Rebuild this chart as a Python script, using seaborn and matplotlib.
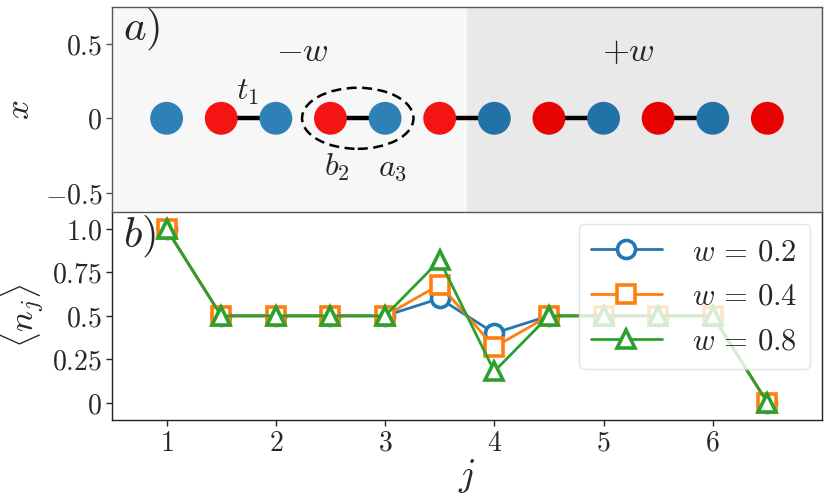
import numpy as np
import pandas as pd
import matplotlib
matplotlib.use("Agg")
import matplotlib.pyplot as plt
from matplotlib.patches import Ellipse
import seaborn as sns

# ---------------- data ----------------
site_x = [1, 1.5, 2, 2.5, 3, 3.5, 4, 4.5, 5, 5.5, 6, 6.5]
site_kind = ["a_left", "b_left", "a_left", "b_left", "a_left", "b_left",
             "a_right", "b_right", "a_right", "b_right", "a_right", "b_right"]
bonds = [(1.5, 2), (2.5, 3), (3.5, 4), (4.5, 5), (5.5, 6)]
kind_colors = {"a_left": "#3080b8", "b_left": "#f51414",
               "a_right": "#2271a7", "b_right": "#e80303"}

j_vals = [1, 1.5, 2, 2.5, 3, 3.5, 4, 4.5, 5, 5.5, 6, 6.5]
n_w02 = [1.0, 0.5, 0.5, 0.5, 0.5, 0.60, 0.40, 0.5, 0.5, 0.5, 0.5, 0.0]
n_w04 = [1.0, 0.5, 0.5, 0.5, 0.5, 0.68, 0.32, 0.5, 0.5, 0.5, 0.5, 0.0]
n_w08 = [1.0, 0.5, 0.5, 0.5, 0.5, 0.82, 0.18, 0.5, 0.5, 0.5, 0.5, 0.0]
series_labels = [r"$w\,=\,0.2$", r"$w\,=\,0.4$", r"$w\,=\,0.8$"]
series_colors = ["#1f77b4", "#ff7f0e", "#2ca02c"]
series_markers = ["o", "s", "^"]

x_ticks = [1, 2, 3, 4, 5, 6]
top_yticks = [-0.5, 0, 0.5]
top_yticklabels = [r"$-0.5$", r"$0$", r"$0.5$"]
bot_yticks = [0, 0.25, 0.5, 0.75, 1.0]
bot_yticklabels = [r"$0$", r"$0.25$", r"$0.5$", r"$0.75$", r"$1.0$"]

# ---------------- style ----------------
sns.set_theme(style="white")
plt.rcParams["mathtext.fontset"] = "cm"
plt.rcParams["font.family"] = ["DejaVu Serif"]

fig = plt.figure(figsize=(8.3, 4.98), dpi=100)
L, R = 112 / 830, 822 / 830
top_t, mid, bot_b = 1 - 7 / 498, 1 - 211.7 / 498, 1 - 420 / 498
ax1 = fig.add_axes([L, mid, R - L, top_t - mid])
ax2 = fig.add_axes([L, bot_b, R - L, mid - bot_b], sharex=ax1)
ax2.patch.set_visible(False)
ax1.set_zorder(2)

# ---------------- top panel ----------------
ax1.axvspan(0.5, 3.75, color="#f7f7f7", zorder=0, lw=0)
ax1.axvspan(3.75, 7.0, color="#e9e9e9", zorder=0, lw=0)
for (x0, x1) in bonds:
    ax1.plot([x0, x1], [0, 0], color="black", lw=3.2, zorder=1)
df_sites = pd.DataFrame({"x": site_x, "y": [0.0] * len(site_x), "kind": site_kind})
sns.scatterplot(data=df_sites, x="x", y="y", hue="kind", palette=kind_colors,
                s=560, linewidth=0, legend=False, ax=ax1, zorder=3)
ax1.add_patch(Ellipse((2.75, 0), 1.02, 0.41, fill=False, ls=(0, (4, 2.2)),
                      lw=1.8, color="black", zorder=4))
ax1.text(0.6, 0.6, r"$a)$", fontsize=31, va="center", ha="left")
ax1.text(2.24, 0.45, r"$-w$", fontsize=25, va="center", ha="center")
ax1.text(5.23, 0.45, r"$+w$", fontsize=25, va="center", ha="center")
ax1.text(1.74, 0.18, r"$t_1$", fontsize=23, va="center", ha="center")
ax1.text(2.56, -0.33, r"$b_2$", fontsize=23, va="center", ha="center")
ax1.text(3.07, -0.33, r"$a_3$", fontsize=23, va="center", ha="center")
ax1.set_ylim(-0.627, 0.747)
ax1.set_yticks(top_yticks)
ax1.set_yticklabels(top_yticklabels)
ax1.set_xlabel("")
ax1.set_ylabel(r"$x$", fontsize=25, labelpad=6)
ax1.tick_params(axis="x", bottom=False, labelbottom=False)
ax1.tick_params(axis="y", left=True, length=4, width=1, labelsize=20, pad=3,
                color="#555555")
for sp in ax1.spines.values():
    sp.set_color("#555555")
    sp.set_linewidth(1.0)

# ---------------- bottom panel ----------------
for vals, lab, col, mk in zip([n_w02, n_w04, n_w08], series_labels,
                              series_colors, series_markers):
    sns.lineplot(x=j_vals, y=vals, ax=ax2, color=col, marker=mk, markersize=13,
                 markerfacecolor="white", markeredgecolor=col, markeredgewidth=2.6,
                 lw=2, label=lab)
ax2.text(0.6, 0.96, r"$b)$", fontsize=31, va="center", ha="left")
ax2.set_xlim(0.5, 7.0)
ax2.set_ylim(-0.1, 1.1)
ax2.set_xticks(x_ticks)
ax2.set_xticklabels([rf"${t}$" for t in x_ticks])
ax2.set_yticks(bot_yticks)
ax2.set_yticklabels(bot_yticklabels)
ax2.set_xlabel(r"$j$", fontsize=27, labelpad=0)
ax2.set_ylabel(r"$\langle n_j\rangle$", fontsize=25, labelpad=4)
ax2.tick_params(axis="both", bottom=True, left=True, length=4, width=1,
                labelsize=20, pad=3)
ax2.spines["top"].set_visible(False)
for k in ["left", "right", "bottom"]:
    ax2.spines[k].set_color("#222222")
    ax2.spines[k].set_linewidth(1.0)
leg = ax2.legend(loc="upper right", fontsize=22, framealpha=0.8,
                 handlelength=2.3, borderaxespad=0.4, labelspacing=0.45,
                 handletextpad=1.0)
leg.get_frame().set_edgecolor("#dddddd")

fig.savefig("out.png", dpi=100)
